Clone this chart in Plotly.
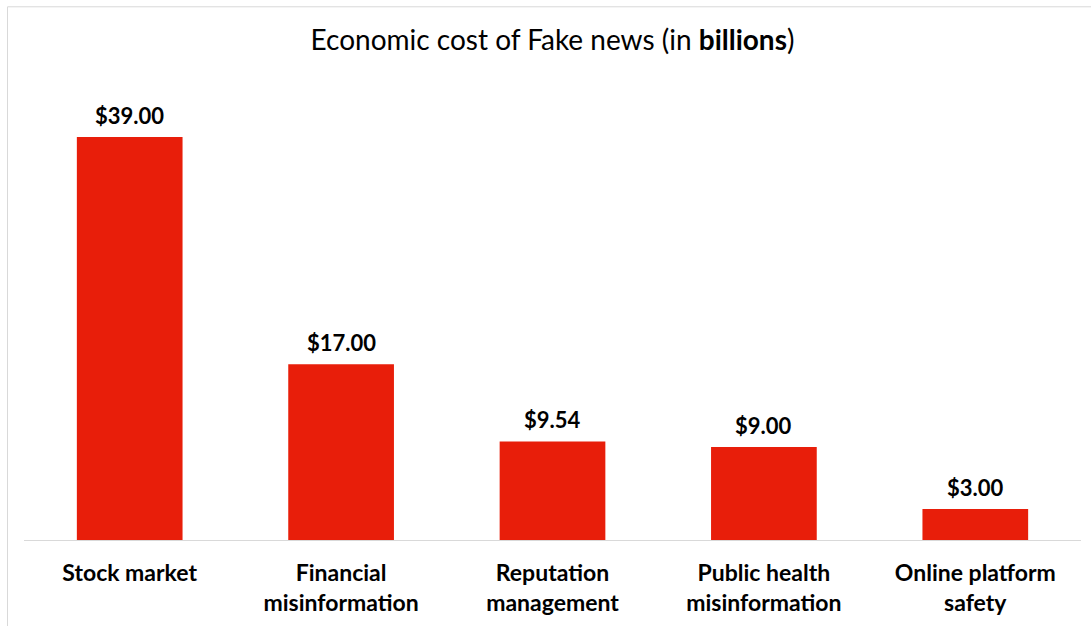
import plotly.graph_objects as go

categories = ["Stock market", "Financial<br>misinformation", "Reputation<br>management",
              "Public health<br>misinformation", "Online platform<br>safety"]
values = [39.00, 17.00, 9.54, 9.00, 3.00]

bar_color = "#E81E0A"
font_family = "Lato, 'Open Sans', sans-serif"

fig = go.Figure(go.Bar(
    x=categories, y=values,
    marker=dict(color=bar_color, line=dict(width=0)),
    width=0.5,
    hoverinfo="x+y",
))

for c, v in zip(categories, values):
    fig.add_annotation(x=c, y=v, text=f"<b>${v:.2f}</b>", showarrow=False,
                       yanchor="bottom", yshift=6,
                       font=dict(family=font_family, size=22, color="#000000"))

fig.update_layout(
    width=1091, height=626,
    margin=dict(l=24, r=10, t=75, b=84),
    paper_bgcolor="white", plot_bgcolor="white",
    showlegend=False,
    title=dict(text="Economic cost of Fake news (in <b>billions</b>)",
               x=0.5, xref="paper", y=0.935, yref="container", xanchor="center", yanchor="middle",
               font=dict(family=font_family, size=28, color="#000000")),
    xaxis=dict(showline=True, linecolor="#d9d9d9", linewidth=1, showgrid=False,
               ticks="", ticklabelstandoff=12,
               tickfont=dict(family=font_family, size=23, color="#000000", weight="bold")),
    yaxis=dict(range=[0, 45], visible=False, showgrid=False, zeroline=False),
    shapes=[dict(type="rect", xref="paper", yref="paper",
                 x0=(7.5 - 24) / 1057, x1=1.2, y0=-0.5, y1=(542 - 6.5) / 467,
                 line=dict(color="#d9d9d9", width=1), fillcolor="rgba(0,0,0,0)", layer="below")],
)

fig.write_html("out.html")
